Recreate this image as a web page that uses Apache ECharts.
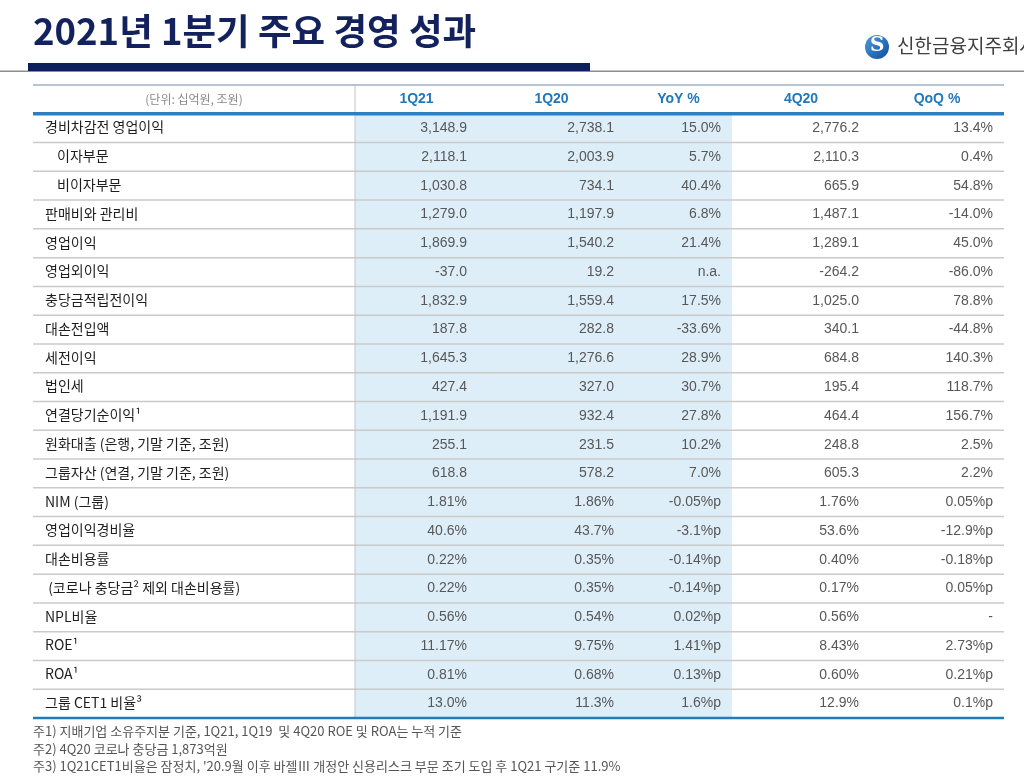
<!DOCTYPE html>
<html>
<head>
<meta charset="utf-8">
<script src="https://cdn.jsdelivr.net/npm/echarts@6/dist/echarts.min.js"></script>
<style>html,body{margin:0;padding:0;background:#fff}#main{width:1024px;height:782px}</style>
</head>
<body>
<div id="main"></div>
<script>
// ---------- data ----------
const titleText = '2021년 1분기 주요 경영 성과';
const companyName = '신한금융지주회사';
const unitLabel = '(단위: 십억원, 조원)';
const headers = ['1Q21', '1Q20', 'YoY %', '4Q20', 'QoQ %'];
const rowLabels = [
  '경비차감전 영업이익', '이자부문', '비이자부문', '판매비와 관리비', '영업이익', '영업외이익',
  '충당금적립전이익', '대손전입액', '세전이익', '법인세', '연결당기순이익¹',
  '원화대출 (은행, 기말 기준, 조원)', '그룹자산 (연결, 기말 기준, 조원)', 'NIM (그룹)',
  '영업이익경비율', '대손비용률', ' (코로나 충당금² 제외 대손비용률)', 'NPL비율', 'ROE¹', 'ROA¹', '그룹 CET1 비율³'
];
const indentRows = [1, 2];
const q121 = ['3,148.9','2,118.1','1,030.8','1,279.0','1,869.9','-37.0','1,832.9','187.8','1,645.3','427.4','1,191.9','255.1','618.8','1.81%','40.6%','0.22%','0.22%','0.56%','11.17%','0.81%','13.0%'];
const q120 = ['2,738.1','2,003.9','734.1','1,197.9','1,540.2','19.2','1,559.4','282.8','1,276.6','327.0','932.4','231.5','578.2','1.86%','43.7%','0.35%','0.35%','0.54%','9.75%','0.68%','11.3%'];
const yoy  = ['15.0%','5.7%','40.4%','6.8%','21.4%','n.a.','17.5%','-33.6%','28.9%','30.7%','27.8%','10.2%','7.0%','-0.05%p','-3.1%p','-0.14%p','-0.14%p','0.02%p','1.41%p','0.13%p','1.6%p'];
const q420 = ['2,776.2','2,110.3','665.9','1,487.1','1,289.1','-264.2','1,025.0','340.1','684.8','195.4','464.4','248.8','605.3','1.76%','53.6%','0.40%','0.17%','0.56%','8.43%','0.60%','12.9%'];
const qoq  = ['13.4%','0.4%','54.8%','-14.0%','45.0%','-86.0%','78.8%','-44.8%','140.3%','118.7%','156.7%','2.5%','2.2%','0.05%p','-12.9%p','-0.18%p','0.05%p','-','2.73%p','0.21%p','0.1%p'];
const footnotes = [
  '주1) 지배기업 소유주지분 기준, 1Q21, 1Q19  및 4Q20 ROE 및 ROA는 누적 기준',
  '주2) 4Q20 코로나 충당금 1,873억원',
  '주3) 1Q21CET1비율은 잠정치, \'20.9월 이후 바젤Ⅲ 개정안 신용리스크 부문 조기 도입 후 1Q21 구기준 11.9%'
];

// ---------- layout (grid units) ----------
const colEdges = [0, 322, 445, 592, 699, 837, 971];
const shadeCols = [1, 4];
const KR = '"Noto Sans CJK KR", "Noto Sans", sans-serif';
const LAT = '"Liberation Sans", Arial, sans-serif';

const valueCols = [q121, q120, yoy, q420, qoq];
const cells = [];
cells.push([0, 0, unitLabel, 'unit']);
headers.forEach((h, i) => cells.push([i + 1, 0, h, 'head']));
rowLabels.forEach((l, r) => {
  cells.push([0, r + 1, l, 'label']);
  valueCols.forEach((arr, c) => cells.push([c + 1, r + 1, arr[r], 'val']));
});
const yCats = ['header'].concat(rowLabels);

const chart = echarts.init(document.getElementById('main'), null, {renderer: 'canvas'});

function frameItem(params, api) {
  const nRows = yCats.length;
  const h = api.size([0, 1])[1];
  const top = api.coord([0, 0])[1] - h / 2;
  const bottom = api.coord([0, nRows - 1])[1] + h / 2;
  const xL = api.coord([colEdges[0], 0])[0];
  const xR = api.coord([colEdges[colEdges.length - 1], 0])[0];
  const rowTop = (r) => api.coord([0, r])[1] - h / 2;
  const xs = api.coord([colEdges[shadeCols[0]], 0])[0];
  const xe = api.coord([colEdges[shadeCols[1]], 0])[0];
  const children = [];
  children.push({type: 'rect', shape: {x: xs, y: rowTop(1), width: xe - xs, height: bottom - rowTop(1)}, style: {fill: '#deeef9'}});
  for (let r = 2; r < nRows; r++) {
    const y = rowTop(r);
    children.push({type: 'line', shape: {x1: xL, y1: y, x2: xR, y2: y}, style: {stroke: '#cacaca', lineWidth: 1.5}});
  }
  children.push({type: 'line', shape: {x1: xs, y1: top, x2: xs, y2: bottom}, style: {stroke: '#c4c4c4', lineWidth: 1}});
  children.push({type: 'line', shape: {x1: xL, y1: top, x2: xR, y2: top}, style: {stroke: '#9fb2c4', lineWidth: 1.5}});
  children.push({type: 'line', shape: {x1: xL, y1: rowTop(1), x2: xR, y2: rowTop(1)}, style: {stroke: '#2a80c2', lineWidth: 3.5}});
  children.push({type: 'line', shape: {x1: xL, y1: bottom, x2: xR, y2: bottom}, style: {stroke: '#1f7db8', lineWidth: 2.5}});
  return {type: 'group', children: children};
}

function cellItem(params, api) {
  const cell = cells[params.dataIndex];
  const c = api.value(0), r = api.value(1);
  const y = api.coord([0, r])[1];
  const x0 = api.coord([colEdges[c], r])[0];
  const x1 = api.coord([colEdges[c + 1], r])[0];
  const kind = cell[3];
  let style;
  if (kind === 'unit') {
    style = {text: cell[2], x: (x0 + x1) / 2, y: y, align: 'center', verticalAlign: 'middle', fill: '#8a8a8a', fontSize: 12, fontFamily: KR};
  } else if (kind === 'head') {
    style = {text: cell[2], x: (x0 + x1) / 2, y: y, align: 'center', verticalAlign: 'middle', fill: '#2278b8', fontSize: 14, fontWeight: 'bold', fontFamily: LAT};
  } else if (kind === 'label') {
    const ind = indentRows.indexOf(r - 1) >= 0 ? 24 : 12;
    style = {text: cell[2], x: x0 + ind, y: y - 1, align: 'left', verticalAlign: 'middle', fill: '#1e1e1e', fontSize: 14, fontFamily: KR};
  } else {
    style = {text: cell[2], x: x1 - 11, y: y, align: 'right', verticalAlign: 'middle', fill: '#575757', fontSize: 14, fontFamily: LAT};
  }
  return {type: 'text', style: style};
}

const option = {
  animation: false,
  backgroundColor: '#ffffff',
  title: {
    text: titleText, left: 28, top: 8,
    textStyle: {fontSize: 36.5, fontWeight: 'bold', color: '#13215c', fontFamily: KR}
  },
  grid: {left: 33, right: 20, top: 85, bottom: 64, containLabel: false},
  xAxis: {type: 'value', min: 0, max: colEdges[colEdges.length - 1], show: false},
  yAxis: {type: 'category', data: yCats, inverse: true, show: false},
  graphic: [
    {type: 'rect', left: 0, top: 70.5, shape: {width: 1024, height: 1.5}, style: {fill: '#8d8d8d'}},
    {type: 'rect', left: 28, top: 63, shape: {width: 562, height: 8}, style: {fill: '#0c1f5e'}},
    {type: 'circle', left: 865, top: 35, shape: {r: 12}, style: {fill: new echarts.graphic.LinearGradient(0, 0, 1, 1, [{offset: 0, color: '#4f9de0'}, {offset: 1, color: '#0f4c9c'}])}},
    {type: 'text', left: 870, top: 36, style: {text: 'S', fill: '#ffffff', fontSize: 20, fontWeight: 'bold', fontFamily: 'DejaVu Serif'}},
    {type: 'text', left: 897, top: 36, style: {text: companyName, fill: '#404040', fontSize: 19, fontFamily: KR}},
    {type: 'text', left: 33, top: 725, style: {text: footnotes[0], fill: '#555555', fontSize: 13, fontFamily: KR}},
    {type: 'text', left: 33, top: 743, style: {text: footnotes[1], fill: '#555555', fontSize: 13, fontFamily: KR}},
    {type: 'text', left: 33, top: 760, style: {text: footnotes[2], fill: '#555555', fontSize: 13, fontFamily: KR}}
  ],
  series: [
    {type: 'custom', name: 'frame', renderItem: frameItem, data: [[0, 0]], z: 1, silent: true, clip: false},
    {type: 'custom', name: 'cells', renderItem: cellItem, data: cells.map(c => [c[0], c[1]]), z: 3, silent: true, clip: false}
  ]
};
chart.setOption(option);
</script>
</body>
</html>
